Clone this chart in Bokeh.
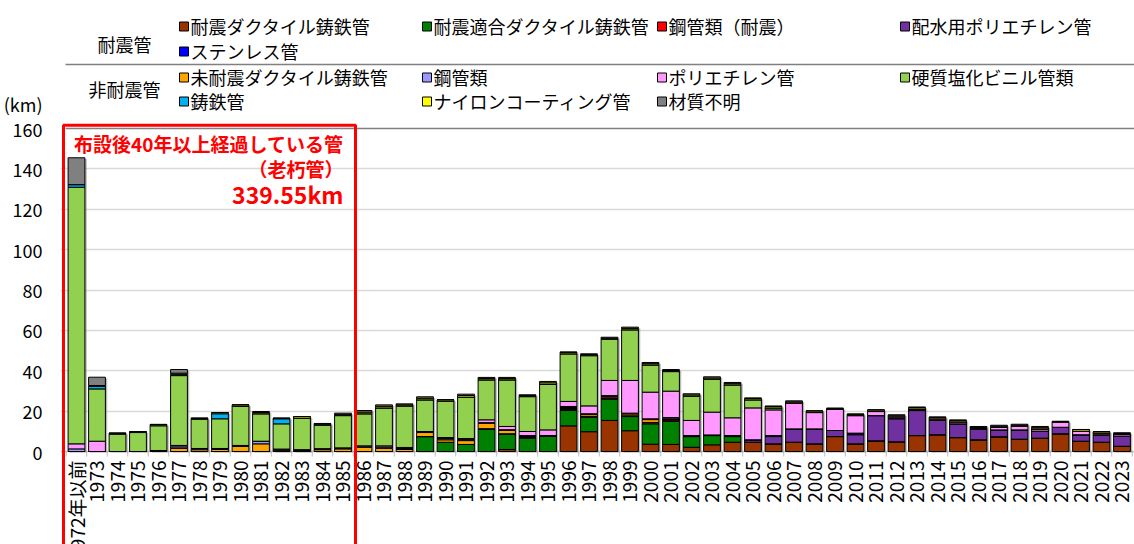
import math
from bokeh.plotting import figure
from bokeh.models import ColumnDataSource, Range1d, FixedTicker
from bokeh.transform import dodge
from bokeh.core.properties import value
from bokeh.embed import file_html
from bokeh.resources import INLINE

FONT = "Noto Sans CJK JP"

# ---------------- data ----------------
categories = ["1972年以前"] + [str(y) for y in range(1973, 2024)]

series_labels = ["耐震ダクタイル鋳鉄管", "耐震適合ダクタイル鋳鉄管", "鋼管類（耐震）", "配水用ポリエチレン管",
                 "ステンレス管", "未耐震ダクタイル鋳鉄管", "鋼管類", "ポリエチレン管",
                 "硬質塩化ビニル管類", "鋳鉄管", "ナイロンコーティング管", "材質不明"]
series_colors = ["#993300", "#008000", "#FF0000", "#7030A0",
                 "#0000FF", "#FFA500", "#9999FF", "#FF99FF",
                 "#92D050", "#00B0F0", "#FFFF00", "#808080"]

#            1972 73   74   75   76   77   78   79   80   81   82   83   84   85
#            86   87   88   89   90   91   92   93   94   95   96   97   98   99
#            2000 01   02   03   04   05   06   07   08   09   10   11   12   13
#            14   15   16   17   18   19   20   21   22   23
dcip_seismic = [0, 0, 0, 0, 0, 0, 0, 0, 0, 0, 0, 0, 0, 0,
                0, 0, 0, 0, 0, 0, 0, 1.0, 0, 0, 12.7, 9.8, 15.4, 10.3,
                3.6, 3.5, 2.1, 3.3, 4.6, 4.6, 3.8, 4.6, 3.8, 7.4, 3.8, 5.3, 4.8, 7.9,
                8.3, 6.9, 5.8, 7.3, 6.1, 6.6, 8.8, 5.1, 4.6, 2.6]
dcip_fit = [0, 0, 0, 0, 0, 0, 0, 0, 0, 0, 0, 0, 0, 0,
            0, 0, 0, 7.4, 4.6, 3.5, 11.0, 7.8, 6.6, 7.6, 7.6, 7.2, 10.5, 7.0,
            10.1, 11.5, 5.3, 4.6, 2.8, 0, 0, 0, 0, 0, 0, 0, 0, 0,
            0, 0, 0, 0, 0, 0, 0, 0, 0, 0]
steel_seismic = [0, 0, 0, 0, 0, 0, 0, 0, 0, 0, 0, 0, 0, 0,
                 0, 0, 0, 0, 0, 0, 0, 0, 0.4, 0, 0.5, 0.4, 0.7, 0.4,
                 0.7, 0.6, 0, 0, 0, 0, 0, 0, 0, 0, 0, 0, 0, 0,
                 0, 0, 0, 0, 0, 0, 0, 0, 0, 0]
pe_distribution = [0, 0, 0, 0, 0, 0, 0, 0, 0, 0, 0, 0, 0, 0,
                   0, 0, 0, 0, 0, 0, 0, 0, 0, 0, 0.5, 0, 0, 0,
                   0, 0.6, 0.5, 0.3, 0.5, 1.2, 3.6, 6.6, 7.4, 3.0, 4.5, 12.5, 11.5, 12.4,
                   7.1, 6.8, 5.1, 3.4, 4.6, 3.5, 3.2, 3.2, 3.7, 5.0]
stainless = [0, 0, 0, 0, 0, 0, 0, 0, 0, 0, 0, 0, 0, 0,
             0, 0, 0, 0, 0, 0, 0.3, 0, 0.4, 0, 0.5, 0, 0, 0,
             0, 0, 0, 0, 0, 0, 0.5, 0, 0, 0, 0.8, 0, 0, 0,
             0, 0, 0, 0, 0, 0, 0, 0, 0, 0]
dcip_old = [0, 0, 0, 0, 0.5, 1.6, 0.9, 1.0, 2.5, 3.8, 0.6, 0.5, 0.9, 1.3,
            2.1, 1.6, 1.0, 2.0, 1.2, 1.9, 2.7, 1.6, 0, 0, 0, 0.9, 0.7, 0.9,
            1.4, 0, 0, 0, 0, 0, 0, 0, 0, 0, 0, 0, 0, 0,
            0, 0, 0, 0, 0, 0, 0, 0, 0, 0]
steel = [1.3, 0, 0, 0, 0, 0.7, 0.6, 0.5, 0.5, 1.3, 0.6, 0.4, 0.5, 0.5,
         0.7, 0.6, 0.5, 0.5, 0.6, 0.5, 0.3, 0.4, 0.5, 0.3, 0.5, 0.4, 0.4, 0.4,
         0.4, 0.6, 0, 0, 0, 0, 0, 0, 0, 0, 0, 0, 0, 0,
         0, 0, 0, 0, 0, 0, 0, 0, 0, 0]
pe = [2.5, 5.1, 0, 0, 0, 0.7, 0, 0, 0, 0, 0, 0, 0, 0,
      0, 0.6, 0.5, 0, 0.5, 0.5, 1.4, 1.6, 2.0, 2.8, 2.5, 3.9, 7.5, 16.2,
      13.2, 13.1, 7.5, 11.3, 8.8, 15.8, 12.7, 12.9, 8.1, 10.4, 8.7, 2.0, 0.9, 0.8,
      0.8, 1.0, 0.5, 1.2, 1.8, 1.1, 2.5, 1.8, 0.8, 0.8]
pvc = [127.1, 25.9, 8.6, 9.4, 12.3, 34.6, 14.5, 14.7, 19.3, 13.6, 12.5, 15.6, 11.6, 16.0,
       15.9, 18.8, 20.6, 15.7, 18.0, 20.5, 19.8, 23.1, 17.3, 22.5, 23.6, 24.9, 20.4, 25.1,
       13.5, 9.7, 12.0, 16.3, 16.3, 4.0, 1.0, 0, 0, 0, 0, 0, 0, 0,
       0, 0, 0, 0, 0, 0, 0, 0, 0, 0]
cast_iron = [1.3, 1.2, 0, 0, 0, 0.6, 0, 2.5, 0, 0, 2.5, 0, 0, 0,
             0, 0, 0, 0, 0, 0, 0, 0, 0, 0, 0, 0, 0, 0,
             0, 0, 0, 0, 0, 0, 0, 0, 0, 0, 0, 0, 0, 0,
             0, 0, 0, 0, 0, 0, 0, 0, 0, 0]
nylon = [0, 0.5, 0.5, 0.5, 0.6, 0.6, 0.5, 0.6, 0.8, 0.6, 0.3, 0.8, 0.5, 0.6,
         0.8, 0.8, 0.5, 0.8, 0.7, 0.8, 0.6, 0.6, 0.5, 0.8, 0.8, 0.5, 0.5, 0.7,
         0.6, 0.5, 0.6, 0.6, 0.6, 0.8, 0.8, 0.5, 0.8, 0.6, 0.7, 0.8, 0.5, 0.8,
         0.8, 0.8, 0.5, 0.6, 0.5, 0.6, 0.4, 0.8, 0.7, 0.5]
unknown = [13.3, 4.1, 0, 0, 0, 1.8, 0, 0, 0, 0.5, 0, 0, 0.4, 0.6,
           0.8, 0.7, 0.5, 0.7, 0, 0.7, 0.6, 0.6, 0.4, 0.7, 0, 0.4, 0.5, 0.6,
           0.6, 0.5, 0.6, 0.6, 0.6, 0, 0, 0.5, 0, 0, 0, 0, 0.5, 0,
           0, 0, 0.5, 0.5, 0.5, 0.6, 0, 0, 0, 0.4]

series_values = [dcip_seismic, dcip_fit, steel_seismic, pe_distribution, stainless, dcip_old,
                 steel, pe, pvc, cast_iron, nylon, unknown]
series_keys = ["dcip_seismic", "dcip_fit", "steel_seismic", "pe_distribution", "stainless", "dcip_old",
               "steel", "pe", "pvc", "cast_iron", "nylon", "unknown"]

group_labels = ["耐震管", "非耐震管"]
note_lines = ["布設後40年以上経過している管", "（老朽管）", "339.55km"]
unit_label = "(km)"
y_ticks = [0, 20, 40, 60, 80, 100, 120, 140, 160]
unit_tick = 172          # axis position that carries the unit label

# ---------------- geometry (page pixels) ----------------
W, H = 1134, 544
KM_PX = 323 / 160.0          # pixels per km
BASE_PX = 451                # page y of the zero line
FRAME_LEFT = 60
FIRST_PX = 76                # page x of the first category
STEP = 20.5                  # pixels per category

def fx(px):
    return (px - FIRST_PX) / STEP

def fy(py):
    return (BASE_PX - py) / KM_PX

n = len(categories)
xs = list(range(n))
data = dict(x=xs, cat=categories)
for k, v in zip(series_keys, series_values):
    data[k] = v
totals = [sum(vals) for vals in zip(*series_values)]
data["shadow_top"] = [t - 0.6 for t in totals]
src = ColumnDataSource(data)

p = figure(width=W, height=H,
           x_range=Range1d(fx(FRAME_LEFT), fx(W)),
           y_range=Range1d(fy(H), fy(0)),
           output_backend="svg", toolbar_location=None,
           x_axis_location=None, min_border_left=FRAME_LEFT, min_border_right=0,
           min_border_top=0, min_border_bottom=0, outline_line_color=None)

p.xgrid.visible = False
p.ygrid.ticker = FixedTicker(ticks=y_ticks[1:-1])
p.ygrid.grid_line_color = "#D9D9D9"
p.ygrid.grid_line_width = 1.5

p.yaxis.ticker = FixedTicker(ticks=y_ticks + [unit_tick])
p.yaxis.major_label_overrides = {unit_tick: unit_label}
p.yaxis.axis_line_color = None
p.yaxis.major_tick_line_color = None
p.yaxis.minor_tick_line_color = None
p.yaxis.major_label_standoff = 12
p.yaxis.major_label_text_font = FONT
p.yaxis.major_label_text_font_size = "18px"
p.yaxis.major_label_text_color = "black"

# ---------------- legend table ----------------
col_px = [179, 422, 657, 900]
row_px = [25, 50, 76, 100]
layout_slots = [(0, 0), (1, 0), (2, 0), (3, 0), (0, 1), (0, 2), (1, 2), (2, 2), (3, 2), (0, 3), (1, 3), (2, 3)]
leg_src = ColumnDataSource(dict(
    sx=[fx(col_px[c] + 4.5) for c, r in layout_slots],
    sy=[fy(row_px[r] + 1) for c, r in layout_slots],
    tx=[fx(col_px[c] + 11) for c, r in layout_slots],
    ty=[fy(row_px[r]) for c, r in layout_slots],
    label=series_labels, color=series_colors))
p.scatter(x="sx", y="sy", marker="square", size=9, fill_color="color", line_color="black",
          line_width=1, source=leg_src)
p.text(x="tx", y="ty", text="label", text_baseline="middle", text_align="left",
       text_font=value(FONT), text_font_size="18px", text_color="black", source=leg_src)
p.text(x=[fx(124)] * 2, y=[fy(43), fy(88)], text=group_labels, text_baseline="middle",
       text_align="center", text_font=value(FONT), text_font_size="18px", text_color="black")
p.line(x=[fx(65), fx(W)], y=[fy(64), fy(64)], line_color="#808080", line_width=1.5)
# table bottom line at the top of the plot
p.line(x=[fx(65), fx(W)], y=[y_ticks[-1], y_ticks[-1]], line_color="#808080", line_width=1.5)

# ---------------- bars ----------------
p.line(x=[fx(FRAME_LEFT), fx(W)], y=[0, 0], line_color="#BFBFBF", line_width=1.5)
edges = [i - 0.5 for i in range(n + 1)]
p.segment(x0=edges, y0=[0] * len(edges), x1=edges, y1=[fy(BASE_PX + 5)] * len(edges),
          line_color="#BFBFBF", line_width=1)

p.vbar(x=dodge("x", 0.09), top="shadow_top", bottom=fy(BASE_PX + 1), width=0.82, source=src,
       fill_color="#7F7F7F", fill_alpha=0.55, line_color=None)

p.vbar_stack(series_keys, x="x", width=0.82, source=src, fill_color=series_colors,
             line_color="black", line_width=1)

# x tick labels
p.text(x="x", y=fy(BASE_PX + 9), text="cat", source=src, angle=math.pi / 2,
       text_align="right", text_baseline="middle", text_font=value(FONT),
       text_font_size="19px", text_color="black")

# ---------------- red frame: pipes older than 40 years ----------------
p.quad(left=[fx(63)], right=[fx(355)], top=[fy(124.7)], bottom=[fy(H + 40)],
       fill_color=None, line_color="#FF0000", line_width=3)
p.text(x=[fx(343)] * 2, y=[fy(143), fy(168)], text=note_lines[:2], text_align="right",
       text_baseline="middle", text_font=value(FONT), text_font_size="19px",
       text_font_style="bold", text_color="#FF0000")
p.text(x=[fx(343)], y=[fy(193)], text=note_lines[2:], text_align="right",
       text_baseline="middle", text_font=value(FONT), text_font_size="23px",
       text_font_style="bold", text_color="#FF0000")

open("out.html", "w").write(file_html(p, INLINE))
